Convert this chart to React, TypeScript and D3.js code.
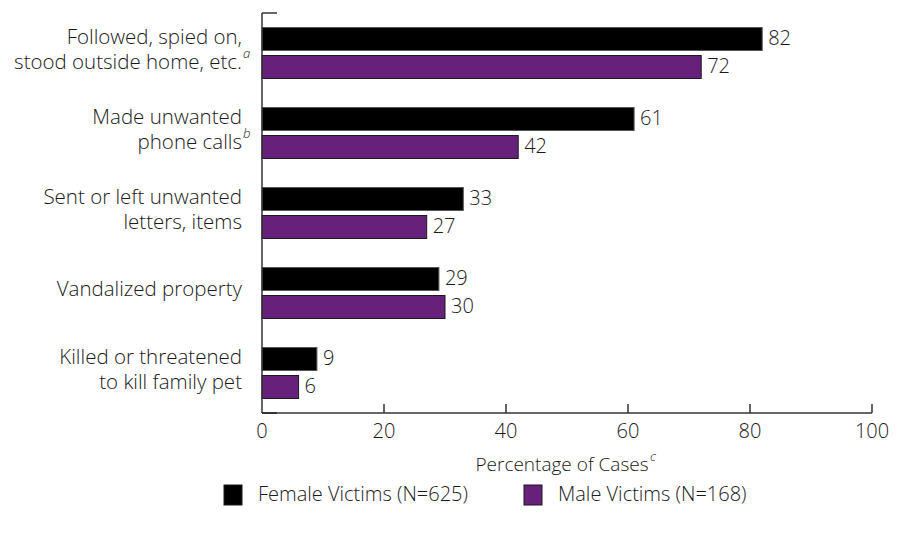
import React from 'react';
import * as d3 from 'd3';

// categories (two-line labels) and their footnote marks
const categoryLines: string[][] = [
  ['Followed, spied on,', 'stood outside home, etc.'],
  ['Made unwanted', 'phone calls'],
  ['Sent or left unwanted', 'letters, items'],
  ['Vandalized property'],
  ['Killed or threatened', 'to kill family pet'],
];
const footnotes = ['a', 'b', '', '', ''];

const femaleValues = [82, 61, 33, 29, 9];
const maleValues = [72, 42, 27, 30, 6];

const seriesKeys = ['female', 'male'];
const seriesNames = ['Female Victims (N=625)', 'Male Victims (N=168)'];
const seriesColors = ['#000000', '#68217a'];

const xTicks = [0, 20, 40, 60, 80, 100];

const W = 905;
const H = 535;
const FONT = '"Open Sans", "Noto Sans", sans-serif';
const TEXT = '#1a1a1a';
const AXIS = '#333333';

export default function App() {
  const x = d3.scaleLinear().domain([0, 100]).range([262, 872]);
  const ids = categoryLines.map((_, i) => String(i));
  const y = d3.scaleBand<string>()
    .domain(ids)
    .range([13, 413])
    .paddingInner(0.3625)
    .paddingOuter(0.18125);
  const ySub = d3.scaleBand<string>()
    .domain(seriesKeys)
    .range([0, y.bandwidth()])
    .paddingInner(0.18);

  const values = [femaleValues, maleValues];
  const axisY = 413;
  const labelRight = 242;

  return (
    <svg width={W} height={H} style={{ position: 'absolute', left: 0, top: 0, background: '#fff' }}
      fontFamily={FONT} fontWeight={300}>
      {/* category labels */}
      {categoryLines.map((lines, i) => {
        const cy = (y(ids[i]) || 0) + y.bandwidth() / 2 - 2;
        const lh = 25;
        const y0 = cy - ((lines.length - 1) * lh) / 2;
        return (
          <g key={i}>
            <text textAnchor="end" fontSize={20.5} fill={TEXT}>
              {lines.map((line, j) => (
                <tspan key={j} x={labelRight} y={y0 + j * lh} dominantBaseline="middle">{line}</tspan>
              ))}
            </text>
            {footnotes[i] ? (
              <text x={labelRight + 1} y={y0 + (lines.length - 1) * lh - 9} dominantBaseline="middle"
                fontSize={13} fontStyle="italic" fill={TEXT}>{footnotes[i]}</text>
            ) : null}
          </g>
        );
      })}

      {/* bars */}
      {ids.map((id, i) => (
        <g key={id} transform={`translate(0,${y(id)})`}>
          {seriesKeys.map((k, s) => {
            const v = values[s][i];
            const by = ySub(k) || 0;
            return (
              <g key={k}>
                <rect x={x(0)} y={by} width={x(v) - x(0)} height={ySub.bandwidth()}
                  fill={seriesColors[s]} stroke={s === 0 ? '#555' : '#1a1a1a'} strokeWidth={1} />
                <text x={x(v) + 6} y={by + ySub.bandwidth() / 2 + 1} dominantBaseline="middle"
                  fontSize={20} fill={TEXT}>{v}</text>
              </g>
            );
          })}
        </g>
      ))}

      {/* y axis */}
      <line x1={x(0)} x2={x(0)} y1={13} y2={axisY} stroke={AXIS} strokeWidth={1.5} />
      <line x1={x(0)} x2={x(0) + 15} y1={13} y2={13} stroke={AXIS} strokeWidth={1.5} />
      <line x1={x(0)} x2={x(0) + 15} y1={axisY} y2={axisY} stroke={AXIS} strokeWidth={2} />

      {/* x axis */}
      <line x1={x(0)} x2={x(100)} y1={axisY} y2={axisY} stroke={AXIS} strokeWidth={1.5} />
      {xTicks.map(t => (
        <g key={t}>
          {t > 0 && <line x1={x(t)} x2={x(t)} y1={axisY} y2={axisY - 9} stroke={AXIS} strokeWidth={1.5} />}
          <text x={x(t)} y={433} textAnchor="middle" dominantBaseline="middle" fontSize={20} fill={TEXT}>{t}</text>
        </g>
      ))}

      {/* x axis title */}
      <text x={(x(0) + x(100)) / 2 - 5} y={466} textAnchor="middle" dominantBaseline="middle" fontSize={19} fill={TEXT}>
        Percentage of Cases
      </text>
      <text x={650} y={458} dominantBaseline="middle" fontSize={13} fontStyle="italic" fill={TEXT}>c</text>

      {/* legend */}
      {seriesNames.map((name, s) => {
        const lx = s === 0 ? 224 : 524;
        return (
          <g key={name}>
            <rect x={lx} y={485} width={18} height={20} fill={seriesColors[s]} stroke="#1a1a1a" strokeWidth={1} />
            <text x={lx + 34} y={496} dominantBaseline="middle" fontSize={20} fill={TEXT}>{name}</text>
          </g>
        );
      })}
    </svg>
  );
}
